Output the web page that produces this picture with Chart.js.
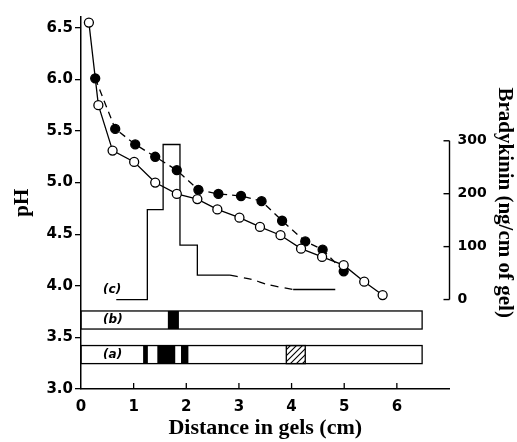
<!DOCTYPE html>
<html>
<head>
<meta charset="utf-8">
<script src="https://cdn.jsdelivr.net/npm/chart.js@4.4.1/dist/chart.umd.min.js"></script>
<style>
  html, body { margin: 0; padding: 0; background: #fff; }
  #wrap { width: 517px; height: 442px; }
</style>
</head>
<body>
<div id="wrap"><canvas id="chart"></canvas></div>
<script>
// pH gradient, open circles (solid line)
const openX  = [0.15, 0.33, 0.60, 1.01, 1.41, 1.82, 2.21, 2.59, 3.01, 3.40, 3.79, 4.18, 4.58, 4.99, 5.38, 5.73];
const openPH = [6.55, 5.75, 5.31, 5.20, 5.00, 4.89, 4.84, 4.74, 4.66, 4.57, 4.49, 4.36, 4.28, 4.20, 4.04, 3.91];

// pH gradient, filled circles (dashed line)
const filledX  = [0.27, 0.65, 1.03, 1.41, 1.82, 2.23, 2.61, 3.04, 3.43, 3.82, 4.26, 4.59, 4.99];
const filledPH = [6.01, 5.52, 5.37, 5.25, 5.12, 4.93, 4.89, 4.87, 4.82, 4.63, 4.43, 4.35, 4.14];

// (c) bradykinin per slice, ng/cm of gel
const sliceX  = [0.67, 1.26, 1.56, 1.88, 2.21, 2.83];
const sliceBK = [0, 170, 293, 103, 46, 46];
const tailDashX  = [2.83, 3.24, 3.56, 4.03];
const tailDashBK = [46, 38, 28, 19];
const tailX  = [4.03, 4.83];
const tailBK = [19, 19];

// gel lanes (cm): length, stained bands, hatched band
const gelLength = 6.48;
const bandsB = [[1.65, 1.86]];
const bandsA = [[1.18, 1.27], [1.45, 1.79], [1.90, 2.04]];
const hatchA = [[3.90, 4.26]];

// tick labels
const phTicks   = [3.0, 3.5, 4.0, 4.5, 5.0, 5.5, 6.0, 6.5];
const bkTicks   = [0, 100, 200, 300];
const distTicks = [0, 1, 2, 3, 4, 5, 6];

const pts = (xs, ys) => xs.map((x, i) => ({ x: x, y: ys[i] }));

function hatchPattern(ctx) {
    const c = document.createElement('canvas');
    c.width = 6; c.height = 6;
    const p = c.getContext('2d');
    p.fillStyle = '#fff';
    p.fillRect(0, 0, 6, 6);
    p.strokeStyle = '#000';
    p.lineWidth = 1.1;
    p.beginPath();
    p.moveTo(0, 6); p.lineTo(6, 0);
    p.moveTo(-3, 3); p.lineTo(3, -3);
    p.moveTo(3, 9); p.lineTo(9, 3);
    p.stroke();
    return ctx.createPattern(c, 'repeat');
}

// gel lanes, lane labels, inward ticks and the bradykinin bracket
const extras = {
    id: 'extras',
    afterDraw(chart) {
        const ctx = chart.ctx;
        const xs = chart.scales.x, ys = chart.scales.y, y2 = chart.scales.y2;
        const area = chart.chartArea;
        ctx.save();
        ctx.strokeStyle = '#000';
        ctx.fillStyle = '#000';
        ctx.lineWidth = 1.3;

        const lanes = [
            { lo: 3.581, hi: 3.756, bands: bandsB, hatch: [] },
            { lo: 3.246, hi: 3.421, bands: bandsA, hatch: hatchA }
        ];
        lanes.forEach(l => {
            const top = ys.getPixelForValue(l.hi), bot = ys.getPixelForValue(l.lo);
            const x0 = xs.getPixelForValue(0), x1 = xs.getPixelForValue(gelLength);
            ctx.fillStyle = '#000';
            l.bands.forEach(b => {
                const a = xs.getPixelForValue(b[0]), e = xs.getPixelForValue(b[1]);
                ctx.fillRect(a, top, e - a, bot - top);
            });
            l.hatch.forEach(b => {
                const a = xs.getPixelForValue(b[0]), e = xs.getPixelForValue(b[1]);
                ctx.fillStyle = hatchPattern(ctx);
                ctx.fillRect(a, top, e - a, bot - top);
                ctx.strokeRect(a, top, e - a, bot - top);
            });
            ctx.strokeRect(x0, top, x1 - x0, bot - top);
        });

        // lane labels
        ctx.fillStyle = '#000';
        ctx.font = 'italic bold 12px "DejaVu Sans"';
        ctx.textAlign = 'left';
        ctx.textBaseline = 'middle';
        const lx = xs.getPixelForValue(0.42);
        ctx.fillText('(c)', lx, ys.getPixelForValue(3.96));
        ctx.fillText('(b)', lx, ys.getPixelForValue(3.668));
        ctx.fillText('(a)', lx, ys.getPixelForValue(3.333));

        // x ticks point up into the plot
        xs.ticks.forEach(t => {
            const px = xs.getPixelForValue(t.value);
            if (t.value === 0) return;
            ctx.beginPath();
            ctx.moveTo(px, area.bottom);
            ctx.lineTo(px, area.bottom - 6);
            ctx.stroke();
        });

        // bradykinin axis: bracket from 0 to 300, ticks to the left
        const rx = area.right;
        ctx.lineWidth = 1.4;
        ctx.beginPath();
        ctx.moveTo(rx, y2.getPixelForValue(bkTicks[0]));
        ctx.lineTo(rx, y2.getPixelForValue(bkTicks[bkTicks.length - 1]));
        ctx.stroke();
        bkTicks.forEach(v => {
            const py = y2.getPixelForValue(v);
            ctx.beginPath();
            ctx.moveTo(rx - 6, py);
            ctx.lineTo(rx, py);
            ctx.stroke();
        });
        ctx.restore();
    }
};

const tickFont = { family: '"DejaVu Sans"', size: 15, weight: 'bold' };

new Chart(document.getElementById('chart'), {
    type: 'scatter',
    data: {
        datasets: [
            {
                data: pts(openX, openPH),
                showLine: true,
                borderColor: '#000',
                borderWidth: 1.3,
                pointRadius: 4.5,
                pointBackgroundColor: '#fff',
                pointBorderColor: '#000',
                pointBorderWidth: 1.3,
                yAxisID: 'y',
                order: 1
            },
            {
                data: pts(filledX, filledPH),
                showLine: true,
                borderColor: '#000',
                borderWidth: 1.3,
                borderDash: [7, 5],
                pointRadius: 4.5,
                pointBackgroundColor: '#000',
                pointBorderColor: '#000',
                yAxisID: 'y',
                order: 2
            },
            {
                data: pts(sliceX, sliceBK),
                showLine: true,
                stepped: 'before',
                borderColor: '#000',
                borderWidth: 1.3,
                pointRadius: 0,
                yAxisID: 'y2',
                order: 3
            },
            {
                data: pts(tailDashX, tailDashBK),
                showLine: true,
                borderColor: '#000',
                borderWidth: 1.3,
                borderDash: [8, 6],
                pointRadius: 0,
                tension: 0.3,
                yAxisID: 'y2',
                order: 3
            },
            {
                data: pts(tailX, tailBK),
                showLine: true,
                borderColor: '#000',
                borderWidth: 1.3,
                pointRadius: 0,
                yAxisID: 'y2',
                order: 3
            }
        ]
    },
    options: {
        responsive: true,
        maintainAspectRatio: false,
        animation: false,
        layout: { padding: { top: 12, left: 0, right: 0, bottom: 0 } },
        plugins: {
            legend: { display: false },
            tooltip: { enabled: false }
        },
        scales: {
            x: {
                type: 'linear',
                min: 0,
                max: 7,
                afterBuildTicks: s => { s.ticks = distTicks.map(v => ({ value: v })); },
                afterFit: s => { s.height = 53; },
                grid: { display: false, drawTicks: false },
                border: { color: '#000', width: 1.5 },
                ticks: { color: '#000', font: tickFont, padding: 9 },
                title: {
                    display: true,
                    text: 'Distance in gels (cm)',
                    color: '#000',
                    font: { family: '"Liberation Serif"', size: 22, weight: 'bold' },
                    padding: 0
                }
            },
            y: {
                position: 'left',
                min: 3.0,
                max: 6.61,
                afterBuildTicks: s => { s.ticks = phTicks.map(v => ({ value: v })); },
                afterFit: s => { s.width = 81; },
                grid: { drawOnChartArea: false, drawTicks: true, tickLength: 6, color: '#000', lineWidth: 1.3 },
                border: { color: '#000', width: 1.5 },
                ticks: {
                    color: '#000',
                    font: tickFont,
                    padding: 2,
                    callback: v => v.toFixed(1)
                },
                title: {
                    display: true,
                    text: 'pH',
                    color: '#000',
                    font: { family: '"Liberation Serif"', size: 21, weight: 'bold' },
                    padding: { top: 10, bottom: 0 }
                }
            },
            y2: {
                position: 'right',
                min: -169,
                max: 535,
                afterBuildTicks: s => { s.ticks = bkTicks.map(v => ({ value: v })); },
                afterFit: s => { s.width = 67.5; },
                grid: { display: false, drawTicks: false },
                border: { display: false },
                ticks: {
                    color: '#000',
                    font: { family: '"DejaVu Sans"', size: 14, weight: 'bold' },
                    padding: 8
                },
                title: {
                    display: true,
                    text: 'Bradykinin (ng/cm of gel)',
                    color: '#000',
                    font: { family: '"Liberation Serif"', size: 21, weight: 'bold' },
                    padding: 0
                }
            }
        }
    },
    plugins: [extras]
});
</script>
</body>
</html>
